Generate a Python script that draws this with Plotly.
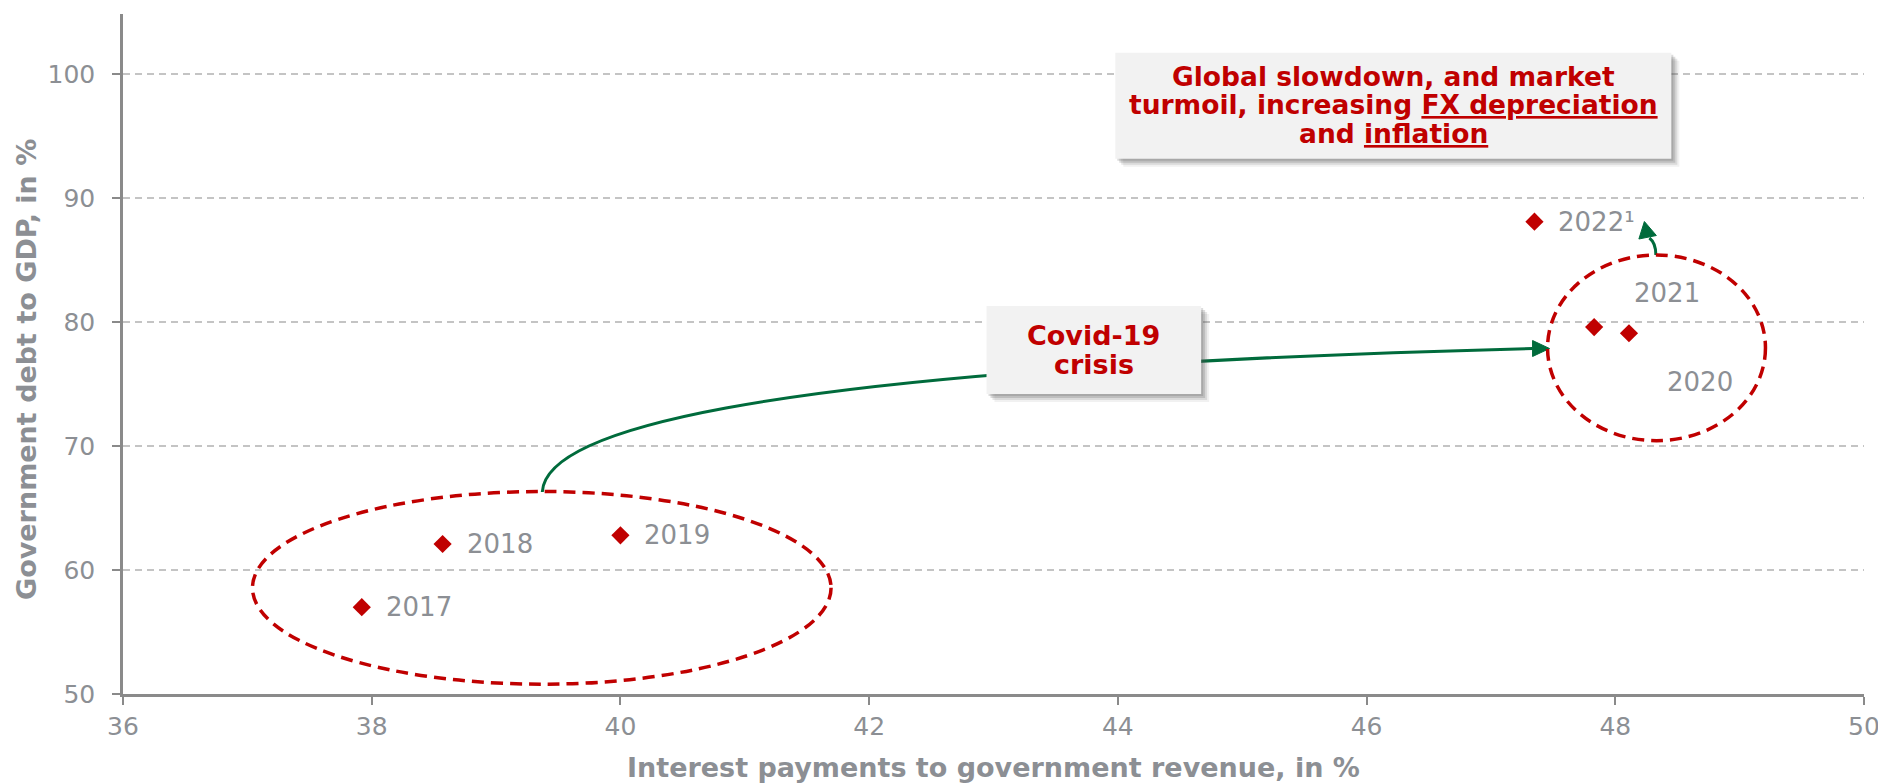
import plotly.graph_objects as go

# ---------------- data ----------------
years = ["2017", "2018", "2019", "2020", "2021", "2022¹"]
interest_to_revenue = [37.92, 38.57, 40.00, 48.11, 47.83, 47.35]
debt_to_gdp = [57.0, 62.1, 62.8, 79.1, 79.6, 88.1]

x_ticks = [36, 38, 40, 42, 44, 46, 48, 50]
y_ticks = [50, 60, 70, 80, 90, 100]

x_title = "Interest payments to government revenue, in %"
y_title = "Government debt to GDP, in %"
box1_lines = ["Global slowdown, and market",
              "turmoil, increasing <u>FX depreciation</u>",
              "and <u>inflation</u>"]
box2_lines = ["Covid-19", "crisis"]

# ---------------- layout geometry ----------------
OFF = 8                      # default page body margin
W, H = 1886 - OFF, 784 - OFF
ML, MR, MT, MB = 115, 19, 6, 90
PW, PH = W - ML - MR, H - MT - MB
XR = [36, 50]
YR = [50, 104.85]

def X(px):
    return XR[0] + (px - OFF - ML) * (XR[1] - XR[0]) / PW

def Y(py):
    return YR[0] + (MT + PH - (py - OFF)) * (YR[1] - YR[0]) / PH

RED = "#C00000"
GREEN = "#006B3C"
GRAY = "#8C8F94"
AXIS = "#8A8A8A"
FONT = "DejaVu Sans"

fig = go.Figure()
fig.add_trace(go.Scatter(
    x=interest_to_revenue, y=debt_to_gdp, mode="markers",
    marker=dict(symbol="diamond", size=14, color=RED, line=dict(width=0)),
    hoverinfo="skip", showlegend=False))

shapes = []
# curved arrow from 2017-19 cluster to 2020-21 cluster
p0, p1, p2, p3 = (543, 492), (546, 438), (700, 370), (1535, 348.5)
shapes.append(dict(type="path", xref="x", yref="y", layer="above",
    path=f"M {X(p0[0])},{Y(p0[1])} C {X(p1[0])},{Y(p1[1])} {X(p2[0])},{Y(p2[1])} {X(p3[0])},{Y(p3[1])}",
    line=dict(color=GREEN, width=3)))
shapes.append(dict(type="path", xref="x", yref="y", layer="above",
    path=f"M {X(1552)},{Y(348.5)} L {X(1535)},{Y(340.5)} L {X(1535)},{Y(356.5)} Z",
    fillcolor=GREEN, line=dict(color=GREEN, width=1)))
# small arrow to 2022
q0, q1, q2, q3 = (1658.5, 255), (1658.5, 246), (1656, 241), (1652, 238)
shapes.append(dict(type="path", xref="x", yref="y", layer="above",
    path=f"M {X(q0[0])},{Y(q0[1])} C {X(q1[0])},{Y(q1[1])} {X(q2[0])},{Y(q2[1])} {X(q3[0])},{Y(q3[1])}",
    line=dict(color=GREEN, width=3)))
shapes.append(dict(type="path", xref="x", yref="y", layer="above",
    path=f"M {X(1647)},{Y(221.5)} L {X(1641.5)},{Y(239)} L {X(1659)},{Y(235.5)} Z",
    fillcolor=GREEN, line=dict(color=GREEN, width=1)))

# dashed ellipses
for (x0, y0, x1, y1) in [(252.7, 491.5, 832.3, 684.2), (1550, 255, 1768.3, 440.7)]:
    shapes.append(dict(type="circle", xref="x", yref="y", layer="above",
        x0=X(x0), x1=X(x1), y0=Y(y1), y1=Y(y0),
        line=dict(color=RED, width=3.5, dash="12px,7px")))

# boxes with shadow
def add_box(x0, y0, x1, y1):
    for off, op in [(8, 0.08), (6, 0.14), (4, 0.2), (2, 0.2)]:
        shapes.append(dict(type="rect", xref="x", yref="y", layer="above",
            x0=X(x0 + off), x1=X(x1 + off), y0=Y(y1 + off), y1=Y(y0 + off),
            fillcolor=f"rgba(80,80,80,{op})", line=dict(width=0)))
    shapes.append(dict(type="rect", xref="x", yref="y", layer="above",
        x0=X(x0), x1=X(x1), y0=Y(y1), y1=Y(y0),
        fillcolor="#F2F2F2", line=dict(width=0)))

add_box(1117, 52.7, 1674, 158.8)
add_box(988, 306, 1203, 394)

annotations = []
for i, line in enumerate(box1_lines):
    annotations.append(dict(x=X(1395.5), y=Y(76 + i * 28.8), xref="x", yref="y",
        text=f"<b>{line}</b>", showarrow=False, xanchor="center", yanchor="middle",
        font=dict(family=FONT, size=26.5, color=RED)))
for i, line in enumerate(box2_lines):
    annotations.append(dict(x=X(1095.5), y=Y(335.8 + i * 28.3), xref="x", yref="y",
        text=f"<b>{line}</b>", showarrow=False, xanchor="center", yanchor="middle",
        font=dict(family=FONT, size=27, color=RED)))

# point labels
special = {"2020": (71, -48.5), "2021": (73, 34)}
for xv, yv, lab in zip(interest_to_revenue, debt_to_gdp, years):
    if lab in special:
        sx, sy = special[lab]
        annotations.append(dict(x=xv, y=yv, xref="x", yref="y", text=lab,
            showarrow=False, xanchor="center", yanchor="middle", xshift=sx, yshift=sy,
            font=dict(family=FONT, size=26, color=GRAY)))
    else:
        annotations.append(dict(x=xv, y=yv, xref="x", yref="y", text=lab,
            showarrow=False, xanchor="left", yanchor="middle", xshift=22, yshift=0,
            font=dict(family=FONT, size=26, color=GRAY)))

# axis titles
annotations.append(dict(x=0.5, y=0, xref="paper", yref="paper", text=f"<b>{x_title}</b>",
    showarrow=False, xanchor="center", yanchor="middle", yshift=-73,
    font=dict(family=FONT, size=27, color=GRAY)))
annotations.append(dict(x=0, y=0.5, xref="paper", yref="paper", text=f"<b>{y_title}</b>",
    showarrow=False, xanchor="center", yanchor="middle", xshift=-97, yshift=-16,
    textangle=-90, font=dict(family=FONT, size=27, color=GRAY)))

fig.update_layout(
    width=W, height=H, autosize=False,
    margin=dict(l=ML, r=MR, t=MT, b=MB),
    paper_bgcolor="white", plot_bgcolor="white",
    shapes=shapes, annotations=annotations, showlegend=False,
    xaxis=dict(range=XR, tickvals=x_ticks, ticktext=[str(v) for v in x_ticks],
               showgrid=False, zeroline=False, showline=True, linecolor=AXIS, linewidth=2.5,
               ticks="outside", ticklen=8, tickwidth=1.5, tickcolor=AXIS,
               ticklabelstandoff=0, ticklabeloverflow="allow",
               tickfont=dict(family=FONT, size=25, color=GRAY)),
    yaxis=dict(range=YR, tickvals=y_ticks, ticktext=[str(v) for v in y_ticks],
               showgrid=True, gridcolor="#C4C4C4", gridwidth=1.5, griddash="7px,5px",
               zeroline=False, showline=True, linecolor=AXIS, linewidth=2.5,
               ticks="outside", ticklen=8, tickwidth=1.5, tickcolor=AXIS,
               ticklabelstandoff=12, ticklabeloverflow="allow",
               tickfont=dict(family=FONT, size=25, color=GRAY)),
)

fig.write_html("out.html", config={"displayModeBar": False})
